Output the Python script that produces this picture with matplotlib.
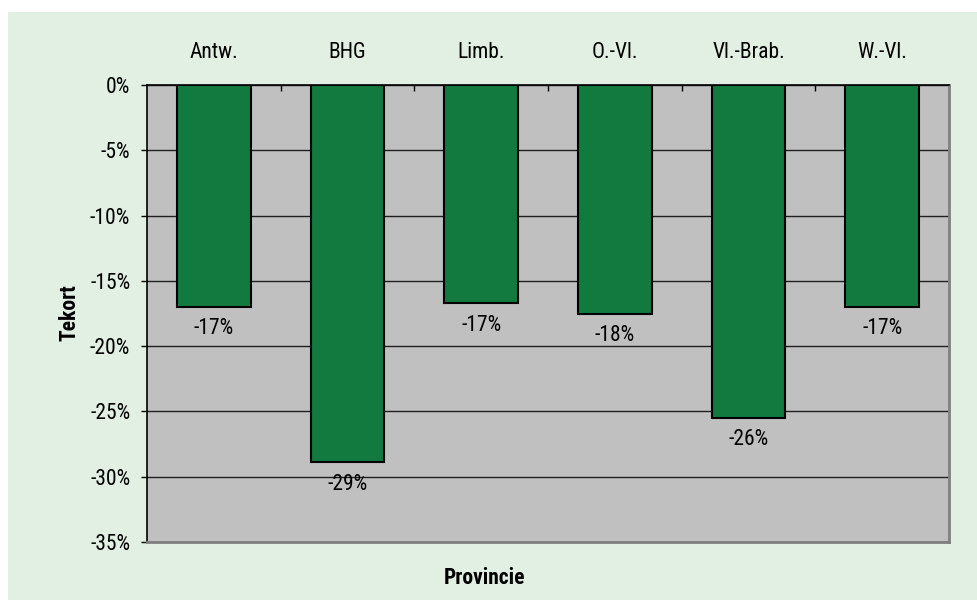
import math
import matplotlib
matplotlib.use("Agg")
import matplotlib.pyplot as plt
from matplotlib.patches import Rectangle
from matplotlib.ticker import FixedLocator
from matplotlib import font_manager

# Deficit per province (percent)
provinces = ["Antw.", "BHG", "Limb.", "O.-Vl.", "Vl.-Brab.", "W.-Vl."]
tekort = [-17.0, -28.9, -16.7, -17.5, -25.5, -17.0]
y_ticks = [0, -5, -10, -15, -20, -25, -30, -35]

# prefer a narrow sans face when one is installed
installed = {f.name for f in font_manager.fontManager.ttflist}
narrow = [n for n in ("Liberation Sans Narrow", "Roboto Condensed", "Open Sans Condensed",
                      "Arial Narrow") if n in installed]
stretch = "normal"
if narrow:
    family = [narrow[0], "DejaVu Sans"]
elif any(f.name == "DejaVu Sans" and f.stretch == "condensed" for f in font_manager.fontManager.ttflist):
    family = ["DejaVu Sans"]
    stretch = "condensed"
else:
    family = ["Liberation Sans", "DejaVu Sans"]
plt.rcParams['font.family'] = family
plt.rcParams['font.stretch'] = stretch

FS = 15.5 if narrow else 13

W, H = 978, 600
fig = plt.figure(figsize=(W / 100, H / 100), dpi=100, facecolor="white")

# light green panel behind the chart
fig.patches.append(Rectangle((8 / W, 0), 1 - 8 / W, 1 - 12 / H,
                             transform=fig.transFigure, facecolor="#e2efe3",
                             edgecolor="none", zorder=-10))

left, right, top, bottom = 147, 949, 85, 542
ax = fig.add_axes([left / W, 1 - bottom / H, (right - left) / W, (bottom - top) / H])
ax.set_zorder(2)
ax.set_facecolor("#c0c0c0")

x = list(range(len(provinces)))
ax.bar(x, tekort, width=0.55, color="#127a3e", edgecolor="black", linewidth=1.5, zorder=3)

def pct_label(v):
    r = math.floor(abs(v) + 0.5)
    return f"-{r}%" if v < 0 else f"{r}%"

for xi, v in zip(x, tekort):
    ax.annotate(pct_label(v), (xi, v), xytext=(0, -22), textcoords="offset pixels",
                ha="center", va="center", fontsize=FS, color="black", zorder=4)

ax.set_xlim(-0.5, len(provinces) - 0.5)
ax.set_ylim(-35, 0)

ax.set_yticks(y_ticks)
ax.set_yticklabels([f"{t}%" for t in y_ticks], fontsize=FS)
ax.yaxis.grid(True, color="#202020", linewidth=1.0, zorder=1)
ax.set_axisbelow(True)

ax.xaxis.tick_top()
ax.set_xticks(x)
ax.set_xticklabels(provinces, fontsize=FS)
ax.tick_params(axis="x", which="major", length=0, pad=16)
ax.xaxis.set_minor_locator(FixedLocator([i + 0.5 for i in range(len(provinces) - 1)]))
ax.tick_params(axis="x", which="minor", direction="in", length=4, width=1, color="black", top=True, bottom=False)
ax.tick_params(axis="y", direction="out", length=4.5, width=1, pad=7.5, color="black")

for side in ("left", "top"):
    ax.spines[side].set_color("black")
    ax.spines[side].set_linewidth(1.2)
for side in ("right", "bottom"):
    ax.spines[side].set_color("#808080")
    ax.spines[side].set_linewidth(2)

fig.text(70 / W, 1 - 313 / H, "Tekort", rotation=90, ha="center", va="center",
         fontsize=FS, fontweight="bold")
fig.text(485 / W, 1 - 578 / H, "Provincie", ha="center", va="center",
         fontsize=FS, fontweight="bold")

fig.savefig("out.png", dpi=100, facecolor=fig.get_facecolor())
